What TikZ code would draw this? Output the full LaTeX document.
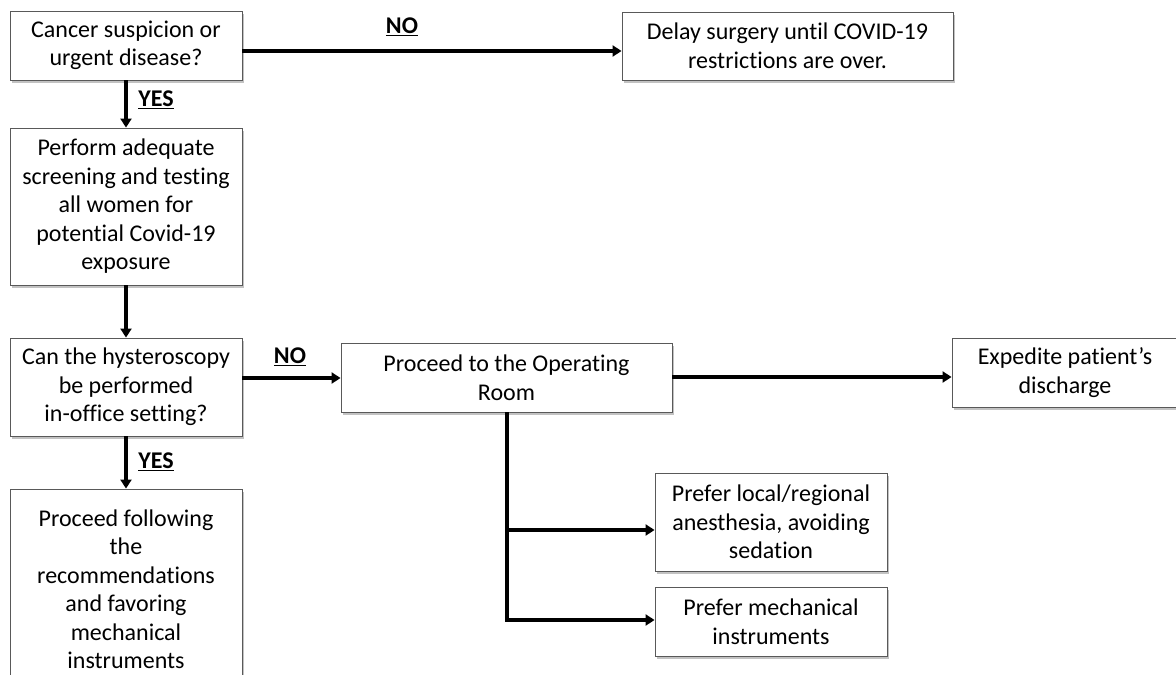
\documentclass[tikz,border=0pt]{standalone}
\usepackage{fontspec}
\setmainfont[Ligatures=NoCommon]{Carlito}
\usetikzlibrary{arrows.meta,shadows}
\begin{document}
\begin{tikzpicture}[x=1pt,y=-1pt,
  box/.style={draw=black!65, line width=0.9pt, fill=white, align=center,
    inner sep=2pt, font=\fontsize{24}{28.5}\selectfont,
    drop shadow={shadow xshift=2pt, shadow yshift=-2.5pt, fill=black!40, opacity=0.6}},
  arr/.style={line width=3.2pt, -{Triangle[length=9pt,width=11pt]}},
  ln/.style={line width=3.2pt},
  lab/.style={font=\fontsize{24}{28}\selectfont\bfseries}]
\useasboundingbox (0,0) rectangle (1176,675);
\node[box, minimum width=232pt, minimum height=69pt] (b1) at (126,45.5)
  {Cancer suspicion or\\ urgent disease?};
\node[box, minimum width=232pt, minimum height=157pt] (b2) at (126,206.5)
  {Perform adequate\\ screening and testing\\ all women for\\ potential Covid-19\\ exposure};
\node[box, minimum width=232pt, minimum height=98pt] (b3) at (126,387)
  {Can the hysteroscopy\\ be performed\\ in-office setting?};
\node[box, minimum width=232pt, minimum height=200pt] (b5) at (126,589)
  {Proceed following\\ the\\ recommendations\\ and favoring\\ mechanical\\ instruments};
\node[box, minimum width=331pt, minimum height=68pt] (delay) at (787.5,46)
  {Delay surgery until COVID-19\\ restrictions are over.};
\node[box, minimum width=331pt, minimum height=69pt] (or) at (506.5,377.5)
  {Proceed to the Operating\\ Room};
\node[box, minimum width=226pt, minimum height=69pt] (exp) at (1065,372.5)
  {Expedite patient’s\\ discharge};
\node[box, minimum width=232pt, minimum height=98pt] (pl) at (771,522)
  {Prefer local/regional\\ anesthesia, avoiding\\ sedation};
\node[box, minimum width=232pt, minimum height=69pt] (pm) at (771,621.5)
  {Prefer mechanical\\ instruments};
\coordinate (y1) at (0,51);
\coordinate (y2) at (0,378);
\coordinate (y3) at (0,377);
\coordinate (y4) at (0,530);
\coordinate (y5) at (0,620);
\coordinate (j) at (507,620);
\coordinate (j1) at (507,530);
\draw[arr] (b1.east |- y1) -- (delay.west |- y1);
\draw[arr] (b1.south) -- (b2.north);
\draw[arr] (b2.south) -- (b3.north);
\draw[arr] (b3.south) -- (b5.north);
\draw[arr] (b3.east |- y2) -- (or.west |- y2);
\draw[arr] (or.east |- y3) -- (exp.west |- y3);
\draw[ln] (or.south -| j) -- (j);
\draw[arr] (j1) -- (pl.west |- y4);
\draw[arr] ([xshift=-1.6pt]j) -- (pm.west |- y5);
\node[lab] (no1) at (402,27) {\underline{NO}};
\node[lab] (yes1) at (156,100) {\underline{YES}};
\node[lab] (no2) at (290,357) {\underline{NO}};
\node[lab] (yes2) at (156,462) {\underline{YES}};
\end{tikzpicture}
\end{document}
